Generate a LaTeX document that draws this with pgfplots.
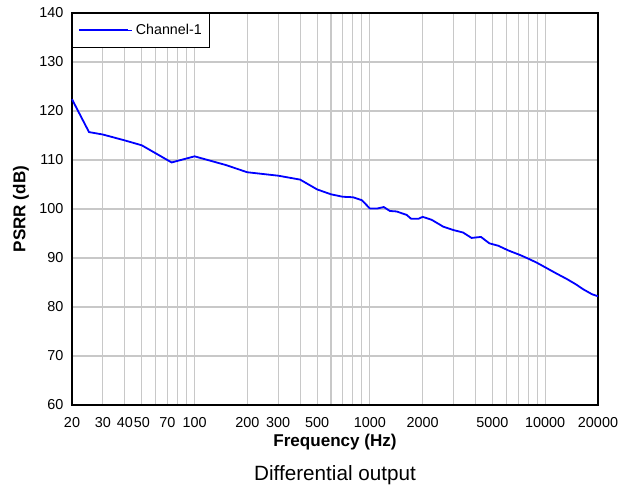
\documentclass[border=0pt]{standalone}
\usepackage{fontspec}
\setmainfont{Liberation Sans}
\usepackage{pgfplots}
\pgfplotsset{compat=1.18}
\definecolor{gridgray}{RGB}{200,200,200}
\definecolor{psrrblue}{RGB}{0,0,255}

\begin{document}
\begin{tikzpicture}
    % picture frame in the reference's proportions (1px = 0.75pt)
    \path[use as bounding box] (-54pt,-61.5pt) rectangle (419.25pt,303.75pt);
    \begin{axis}[
        at={(0,0)}, anchor=south west,
        scale only axis,
        width=394.5pt, height=294pt,
        xmode=log,
        xmin=20, xmax=20000,
        ymin=60, ymax=140,
        xtick={20,30,40,50,70,100,200,300,500,1000,2000,5000,10000,20000},
        xticklabels={20,30,40,50,70,100,200,300,500,1000,2000,5000,10000,20000},
        minor xtick={60,80,90,400,600,700,800,900,3000,4000,6000,7000,8000,9000},
        ytick={60,70,...,140},
        grid=both,
        major grid style={gridgray, line width=0.8pt},
        minor grid style={gridgray, line width=0.8pt},
        major tick length=0pt, minor tick length=0pt,
        axis line style={line width=1.3pt},
        /pgf/number format/assume math mode=true,
        tick label style={font=\fontsize{10.8}{12}\selectfont},
        xticklabel style={anchor=base, yshift=-16.5pt},
        yticklabel style={anchor=east, xshift=-3pt},
        xlabel={Frequency (Hz)},
        ylabel={PSRR (dB)},
        every axis x label/.style={at={(axis description cs:0.5,-0.107)}, anchor=base,
            font=\fontsize{12.8}{14}\selectfont\bfseries},
        every axis y label/.style={at={(axis description cs:-0.097,0.5)}, anchor=center, rotate=90,
            font=\fontsize{12.8}{14}\selectfont\bfseries},
        legend style={at={(0,1)}, anchor=north west, draw=black, line width=1pt,
            font=\fontsize{10.7}{12}\selectfont, inner xsep=4pt, inner ysep=6pt},
        legend image code/.code={
            \draw[psrrblue, line width=1.5pt] (0pt,0.4pt) -- (37pt,0.4pt);
            \path (0pt,0pt) -- (40pt,0pt);},
        clip=false,
    ]
    \addplot[psrrblue, line width=1.35pt] coordinates {
        (20,122.4) (25,115.7) (30,115.2) (40,114.0) (50,113.0) (74,109.5)
        (100,110.75) (150,109.0) (200,107.5) (300,106.8) (400,106.0)
        (500,104.0) (600,103.0) (700,102.5) (800,102.4) (900,101.8)
        (1000,100.1) (1100,100.1) (1200,100.4) (1300,99.6) (1420,99.5)
        (1620,98.8) (1720,98.0) (1890,98.0) (2000,98.4) (2250,97.8)
        (2620,96.4) (3000,95.7) (3400,95.2) (3800,94.1) (4300,94.3)
        (4800,93.0) (5400,92.5) (6200,91.5) (7200,90.6) (8200,89.7)
        (9000,89.0) (10000,88.1) (11500,86.9) (13300,85.7) (15000,84.6)
        (16500,83.6) (18500,82.6) (20000,82.2)
    };
    \addlegendentry{Channel-1}
    \end{axis}
    \node[anchor=base, font=\fontsize{15.5}{17}\selectfont] at (197.25pt,-56.25pt) {Differential output};
\end{tikzpicture}
\end{document}
